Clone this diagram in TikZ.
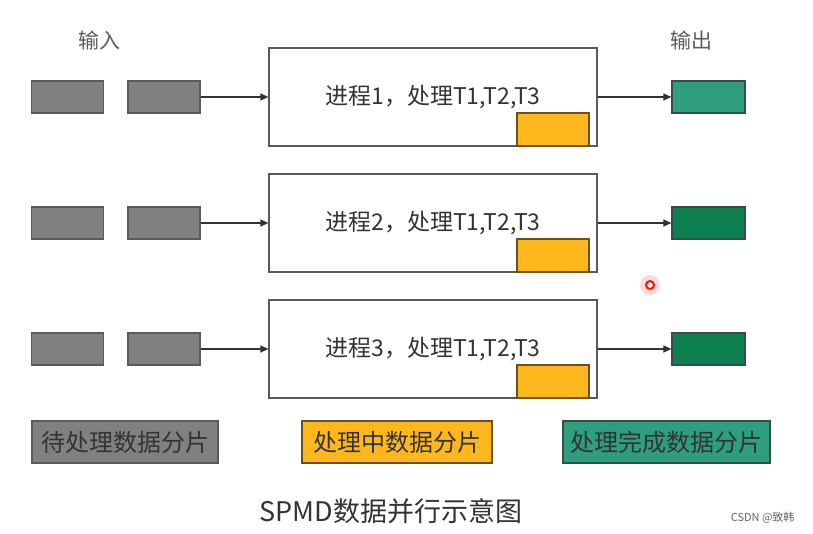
\documentclass[tikz,border=0pt]{standalone}
\usepackage{fontspec}
\setmainfont{Noto Sans CJK SC}
\usetikzlibrary{positioning,arrows.meta}
\definecolor{WaitGray}{RGB}{128,128,128}
\definecolor{WaitEdge}{RGB}{90,90,90}
\definecolor{BusyGold}{RGB}{255,183,30}
\definecolor{BusyEdge}{RGB}{110,80,20}
\definecolor{DoneTeal}{RGB}{46,158,126}
\definecolor{DoneGreen}{RGB}{14,128,80}
\definecolor{DoneEdge}{RGB}{50,80,70}
\definecolor{InkGray}{RGB}{51,51,51}
\tikzset{
  waitbox/.style={draw=WaitEdge,fill=WaitGray,line width=1.2pt,inner sep=0pt,
    minimum width=72pt,minimum height=32pt},
  procbox/.style={draw=black!65,fill=white,line width=1.2pt,inner sep=0pt,
    minimum width=328pt,minimum height=98pt,text=InkGray,font=\fontsize{23}{27}\selectfont},
  busybox/.style={draw=BusyEdge,fill=BusyGold,line width=1.2pt,inner sep=0pt,
    minimum width=72pt,minimum height=33pt},
  donebox/.style={draw=DoneEdge,line width=1.2pt,inner sep=0pt,
    minimum width=73pt,minimum height=32pt},
  legend/.style={line width=1.2pt,inner sep=0pt,minimum height=42pt,
    text=InkGray,font=\fontsize{24}{28}\selectfont},
  link/.style={draw=black!80,line width=1.1pt,-{Triangle[length=8pt,width=7pt]}},
}

\begin{document}
\begin{tikzpicture}[x=1pt,y=-1pt]
\useasboundingbox (0,0) rectangle (813,533);
\fill[white] (0,0) rectangle (813,533);
\node[text=InkGray!80,font=\fontsize{21}{24}\selectfont] (inlabel) at (99,40) {输入};
\node[text=InkGray!80,font=\fontsize{21}{24}\selectfont] (outlabel) at (691,40) {输出};
% one row per process
\foreach \i/\y/\g in {1/97/DoneTeal,2/223/DoneGreen,3/349/DoneGreen} {
  \node[waitbox] (wa\i) at (67.5,\y) {};
  \node[waitbox] (wb\i) at (164,\y) {};
  \node[procbox] (p\i) at (433,\y) {进程\i，处理T1,T2,T3};
  \node[busybox,anchor=south east] (b\i) at ([xshift=-8pt]p\i.south east) {};
  \node[donebox,fill=\g] (d\i) at (708.5,\y) {};
  \draw[link] (wb\i) -- (p\i);
  \draw[link] (p\i) -- (d\i);
}
\node[circle,fill=red!15,minimum size=20pt,inner sep=0pt] (pointer) at (650,285) {};
\draw[red!85!orange,line width=2pt,fill=red!8] (pointer.center) circle (4pt);
% legend
\node[legend,draw=WaitEdge,fill=WaitGray,minimum width=186pt] (lwait) at (125,442) {待处理数据分片};
\node[legend,draw=BusyEdge,fill=BusyGold,minimum width=190pt] (lbusy) at (397,442) {处理中数据分片};
\node[legend,draw=DoneEdge,fill=DoneTeal,minimum width=207pt] (ldone) at (666.5,442) {处理完成数据分片};
\node[text=InkGray,font=\fontsize{27}{32}\selectfont] (title) at (391,511) {SPMD数据并行示意图};
\node[text=black!60,font=\fontsize{11}{13}\selectfont,anchor=east] (mark) at (798,518) {CSDN @致韩};
\end{tikzpicture}
\end{document}
